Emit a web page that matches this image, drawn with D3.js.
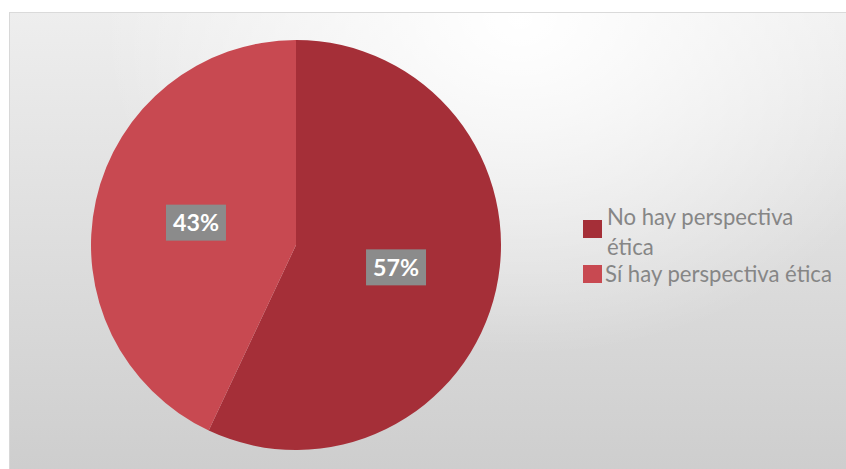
<!DOCTYPE html>
<html><head><meta charset="utf-8">
<script src="https://cdn.jsdelivr.net/npm/d3@7"></script>
<style>html,body{margin:0;padding:0;background:#fff;}svg{display:block;}</style>
</head><body>
<svg id="chart" width="846" height="469"></svg>
<script>
const categories = ["No hay perspectiva ética", "Sí hay perspectiva ética"];
const legendLines = [["No hay perspectiva", "ética"], ["Sí hay perspectiva ética"]];
const values = [57, 43];
const labels = ["57%", "43%"];
const colors = ["#a52f38", "#c84951"];

const svg = d3.select("#chart");
const defs = svg.append("defs");
const lin = defs.append("linearGradient").attr("id", "bgLin")
  .attr("x1", 0).attr("y1", 0).attr("x2", 0).attr("y2", 1);
lin.append("stop").attr("offset", "0%").attr("stop-color", "#eeeeee");
lin.append("stop").attr("offset", "100%").attr("stop-color", "#cdcdcd");
const rad = defs.append("radialGradient").attr("id", "bgRad")
  .attr("gradientUnits", "userSpaceOnUse")
  .attr("cx", 520).attr("cy", 20).attr("r", 420)
  .attr("gradientTransform", "translate(520,20) scale(1,0.8) translate(-520,-20)");
rad.append("stop").attr("offset", "0%").attr("stop-color", "#ffffff").attr("stop-opacity", 1);
rad.append("stop").attr("offset", "100%").attr("stop-color", "#ffffff").attr("stop-opacity", 0);

svg.append("rect").attr("x", 9).attr("y", 12).attr("width", 846).attr("height", 469)
  .attr("fill", "url(#bgLin)");
svg.append("rect").attr("x", 9).attr("y", 12).attr("width", 846).attr("height", 469)
  .attr("fill", "url(#bgRad)");
svg.append("line").attr("x1", 9).attr("x2", 846).attr("y1", 12.5).attr("y2", 12.5)
  .attr("stroke", "#dadada");
svg.append("line").attr("x1", 9.5).attr("x2", 9.5).attr("y1", 12).attr("y2", 469)
  .attr("stroke", "#d8d8d8");

const cx = 296, cy = 245, r = 205;
const pie = d3.pie().sort(null).value(d => d);
const arcs = pie(values);
const arc = d3.arc().innerRadius(0).outerRadius(r);
const g = svg.append("g").attr("transform", `translate(${cx},${cy})`);
g.selectAll("path").data(arcs).join("path")
  .attr("d", arc).attr("fill", (d, i) => colors[i]);

function fit(sel, target) {
  const w = sel.node().getComputedTextLength();
  const fs = parseFloat(sel.attr("font-size"));
  sel.attr("font-size", fs * target / w);
}

// data labels
const labelArc = d3.arc().innerRadius(r * 0.5).outerRadius(r * 0.5);
const boxW = 60, boxH = 36;
arcs.forEach((d, i) => {
  const [x, y] = labelArc.centroid(d);
  const lg = g.append("g").attr("transform", `translate(${x},${y})`);
  lg.append("rect").attr("x", -boxW / 2).attr("y", -boxH / 2)
    .attr("width", boxW).attr("height", boxH).attr("fill", "#8b8b8b");
  const t = lg.append("text").attr("text-anchor", "middle").attr("dy", "0.36em")
    .attr("fill", "#ffffff").attr("font-family", "Lato, sans-serif")
    .attr("font-weight", "bold").attr("font-size", 20).text(labels[i]);
  fit(t, 46);
});

// legend
const leg = svg.append("g");
const baselines = [[225, 255], [282]];
const squares = [220, 265];
const texts = [];
legendLines.forEach((lines, i) => {
  leg.append("rect").attr("x", 583).attr("y", squares[i]).attr("width", 19).attr("height", 18)
    .attr("fill", colors[i]);
  lines.forEach((t, j) => {
    texts.push(leg.append("text").attr("x", i === 0 ? 607 : 605).attr("y", baselines[i][j])
      .attr("fill", "#868686").attr("font-family", "Lato, sans-serif")
      .attr("font-size", 20).text(t));
  });
});
// fit legend font size to the reference width of the longest line
const ref = texts[2];
const w0 = ref.node().getComputedTextLength();
const fs = 20 * 227 / w0;
texts.forEach(t => t.attr("font-size", fs));
</script>
</body></html>
